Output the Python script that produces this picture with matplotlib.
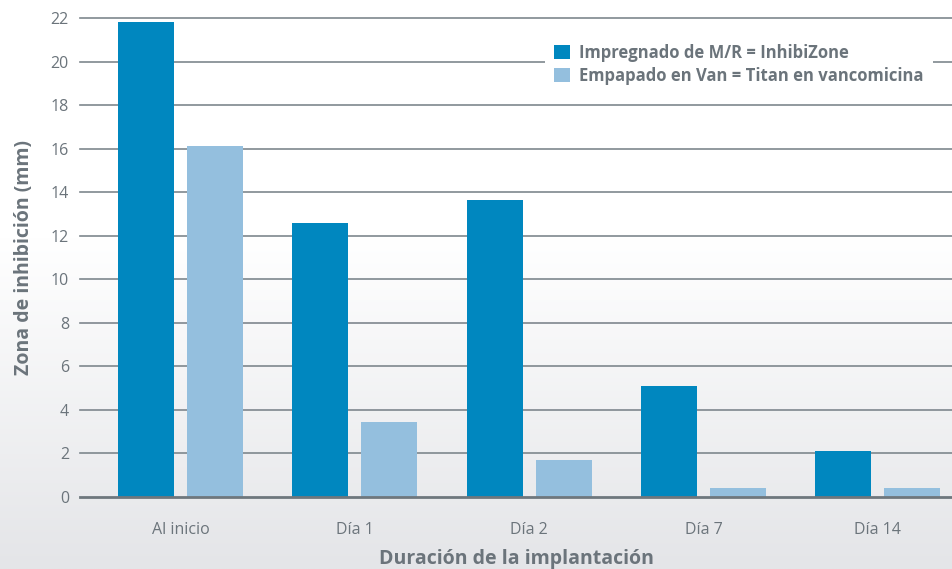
import numpy as np
import matplotlib.pyplot as plt
from matplotlib.patches import Patch

plt.rcParams['font.family'] = ['Open Sans', 'DejaVu Sans']

categories = ['Al inicio', 'Día 1', 'Día 2', 'Día 7', 'Día 14']
inhibizone = [21.8, 12.6, 13.65, 5.1, 2.1]
titan_van = [16.1, 3.45, 1.7, 0.4, 0.4]
series_names = ['Impregnado de M/R = InhibiZone', 'Empapado en Van = Titan en vancomicina']
yticks = list(range(0, 24, 2))

dark = '#0087bf'
light = '#94bfde'
grid_col = '#7e878d'
text_col = '#6b747b'

fig = plt.figure(figsize=(9.53, 5.69), dpi=100)

# background gradient: white on top, light grey at the bottom
bg = fig.add_axes([0, 0, 1, 1], zorder=-10)
h = 569
ys = np.linspace(0, 1, h)
start = 0.42
t = np.clip((ys - start) / (1 - start), 0, 1)
top = np.array([1.0, 1.0, 1.0])
bot = np.array([0xe4, 0xe5, 0xe8]) / 255
img = top[None, :] * (1 - t[:, None]) + bot[None, :] * t[:, None]
img = np.repeat(img[:, None, :], 4, axis=1)
bg.imshow(img, aspect='auto', extent=[0, 1, 1, 0])
bg.axis('off')

ax = fig.add_axes([80 / 953, 1 - 497 / 569, 1 - 80 / 953, (497 - 18) / 569])
ax.set_facecolor('none')

x = np.arange(len(categories))
w = 0.321
off = 0.198
ax.bar(x - off, inhibizone, w, color=dark, zorder=3)
ax.bar(x + off, titan_van, w, color=light, zorder=3)

for v in yticks[1:]:
    ax.axhline(v, color=grid_col, lw=1.2, zorder=1, clip_on=False)

ax.set_xlim(-0.577, 4.432)
ax.set_ylim(0, 22)
ax.set_yticks(yticks)
ax.set_xticks(x)
ax.set_xticklabels(categories)
ax.tick_params(axis='both', length=0, labelsize=11.5, labelcolor=text_col)
ax.tick_params(axis='y', pad=8)
ax.tick_params(axis='x', pad=18)

for s in ['left', 'right', 'top']:
    ax.spines[s].set_visible(False)
ax.spines['bottom'].set_color('#6e777d')
ax.spines['bottom'].set_linewidth(2)
ax.spines['bottom'].set_zorder(4)

ax.set_xlabel('Duración de la implantación', fontsize=14, fontweight='bold',
              color=text_col, labelpad=8)
ax.set_ylabel('Zona de inhibición (mm)', fontsize=14, fontweight='bold',
              color=text_col, labelpad=12)

handles = [Patch(facecolor=dark), Patch(facecolor=light)]
leg = fig.legend(handles, series_names, loc='upper left',
                 bbox_to_anchor=(537 / 953, 1 - 26 / 569),
                 frameon=True, facecolor='white', edgecolor='none', framealpha=1,
                 fancybox=False, handlelength=0.95, handleheight=0.95,
                 handletextpad=0.55, labelspacing=0.3, borderpad=0.55,
                 prop={'weight': 'bold', 'size': 12})
for txt in leg.get_texts():
    txt.set_color(text_col)

fig.savefig('out.png', dpi=100)
